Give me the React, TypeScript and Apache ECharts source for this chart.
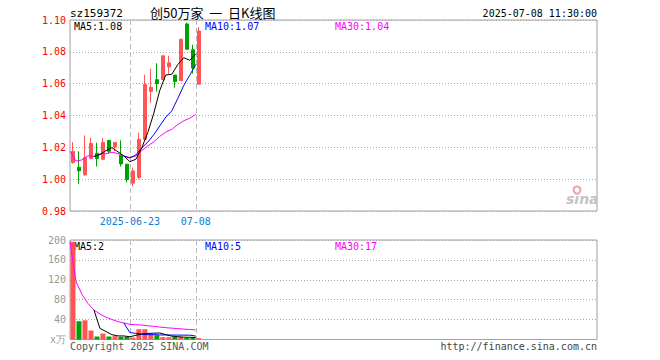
import { useEffect, useRef } from "react";
import * as echarts from "echarts";

// ---- data ----
const DATES = [
  "2025-06-09", "2025-06-10", "2025-06-11", "2025-06-12", "2025-06-13",
  "2025-06-16", "2025-06-17", "2025-06-18", "2025-06-19", "2025-06-20",
  "2025-06-23", "2025-06-24", "2025-06-25", "2025-06-26", "2025-06-27",
  "2025-06-30", "2025-07-01", "2025-07-02", "2025-07-03", "2025-07-04",
  "2025-07-07", "2025-07-08",
];
const OPEN = [1.0104, 1.0075, 1.0027, 1.0131, 1.0163, 1.0125, 1.0244, 1.0202, 1.015, 1.0094, 0.9975, 1.0011, 1.025, 1.0552, 1.0625, 1.0625, 1.0706, 1.0654, 1.0619, 1.0975, 1.0813, 1.0597];
const CLOSE = [1.0175, 1.0052, 1.0136, 1.0225, 1.0129, 1.0231, 1.0175, 1.0231, 1.0096, 0.9998, 1.0052, 1.025, 1.0594, 1.0577, 1.06, 1.0775, 1.0731, 1.0613, 1.0879, 1.0816, 1.0698, 1.0931];
const LOW = [1.0098, 0.9971, 1.0021, 1.0125, 1.0079, 1.0121, 1.016, 1.0177, 1.0079, 0.998, 0.9954, 1.0, 1.024, 1.0479, 1.055, 1.0625, 1.0663, 1.0575, 1.0619, 1.0816, 1.0663, 1.0597];
const HIGH = [1.0233, 1.0175, 1.0275, 1.026, 1.0229, 1.026, 1.0244, 1.0231, 1.0244, 1.0094, 1.0073, 1.0292, 1.0656, 1.0694, 1.0728, 1.0775, 1.0775, 1.0654, 1.088, 1.0984, 1.0844, 1.0956];

const PRICE_MA5_START = 4;
const PRICE_MA5 = [1.0143, 1.0155, 1.0179, 1.0198, 1.0172, 1.0146, 1.011, 1.0125, 1.0198, 1.0294, 1.0415, 1.0559, 1.0655, 1.0659, 1.072, 1.0763, 1.0747, 1.0787];
const PRICE_MA10_START = 9;
const PRICE_MA10 = [1.0145, 1.0133, 1.0152, 1.0198, 1.0233, 1.028, 1.0335, 1.039, 1.0429, 1.0507, 1.0589, 1.0653, 1.0721];
const PRICE_MA30_START = 0;
const PRICE_MA30 = [1.0175, 1.0114, 1.0121, 1.0147, 1.0143, 1.0158, 1.016, 1.0169, 1.0161, 1.0145, 1.0136, 1.0146, 1.018, 1.0209, 1.0235, 1.0269, 1.0296, 1.0313, 1.0343, 1.0367, 1.0383, 1.0407];

const VOLUME = [196.6, 36.7, 38.7, 18, 6, 12, 6, 6.7, 5.3, 5.3, 4, 20.7, 20.7, 10, 8.7, 4.7, 4.7, 5.3, 5.3, 3.3, 3.3, 2.7];
const VOL_MA5_START = 4;
const VOL_MA5 = [59.2, 22.3, 16.1, 9.7, 7.2, 7.1, 5.5, 8.4, 11.2, 12.1, 12.8, 13.0, 9.8, 6.7, 5.7, 4.7, 4.4, 4.0];
const VOL_MA10_START = 9;
const VOL_MA10 = [33.1, 13.9, 12.3, 10.5, 9.7, 9.9, 9.2, 9.1, 8.9, 8.9, 8.7, 8.7, 6.9];
const VOL_MA30_START = 0;
const VOL_MA30 = [196.6, 116.7, 90.7, 72.5, 59.2, 51.3, 44.9, 40.1, 36.2, 33.1, 30.5, 29.7, 29.0, 27.6, 26.4, 25.0, 23.8, 22.8, 21.9, 20.9, 20.1, 19.3];

const X_TICK_INDEX = [10, 21];
const X_TICK_LABELS = ["2025-06-23", "07-08"];

const PRICE_MIN = 0.98;
const PRICE_MAX = 1.1;
const PRICE_STEP = 0.02;
const VOL_MIN = 0;
const VOL_MAX = 200;
const VOL_STEP = 40;
const VOL_UNIT = "x万";

const TITLE_CODE = "sz159372";
const TITLE_NAME = "创50万家  一  日K线图";
const TITLE_TIME = "2025-07-08 11:30:00";
const PRICE_LEGEND = ["MA5:1.08", "MA10:1.07", "MA30:1.04"];
const VOL_LEGEND = ["MA5:2", "MA10:5", "MA30:17"];
const COPYRIGHT = "Copyright 2025 SINA.COM";
const SITE = "http://finance.sina.com.cn";

// ---- layout / style ----
const SLOT_COUNT = 88;
const MONO = '"DejaVu Sans Mono", "Liberation Mono", monospace';
const RED = "#ff5555";
const GREEN = "#00a000";
const BORDER = "#a0a0a0";

const slots: string[] = [];
for (let k = 0; k < SLOT_COUNT; k++) slots.push(k < DATES.length ? DATES[k] : "slot" + k);
const points: string[] = [];
for (let k = 0; k <= SLOT_COUNT; k++) points.push(k < DATES.length ? DATES[k] : "pt" + k);

function pad(values: number[], start: number): (number | null)[] {
  const out: (number | null)[] = [];
  for (let k = 0; k < start; k++) out.push(null);
  return out.concat(values);
}

const candleData = DATES.map((_, i) => [OPEN[i], CLOSE[i], LOW[i], HIGH[i]]);
const volData = VOLUME.map((v, i) => ({
  value: v,
  itemStyle: { color: CLOSE[i] >= OPEN[i] ? RED : GREEN },
}));

const isTick = (idx: number) => X_TICK_INDEX.indexOf(idx) >= 0;

function lineSeries(data: (number | null)[], color: string, xIdx: number, yIdx: number) {
  return {
    type: "line",
    data,
    xAxisIndex: xIdx,
    yAxisIndex: yIdx,
    symbol: "none",
    silent: true,
    lineStyle: { color, width: 1 },
    z: 5,
  };
}

function txt(text: string, x: number, y: number, fill: string, font: string, align = "left") {
  return {
    type: "text",
    x,
    y,
    silent: true,
    style: { text, fill, font, textAlign: align, textVerticalAlign: "middle" },
  };
}

export default function App() {
  const ref = useRef<HTMLDivElement>(null);
  useEffect(() => {
    if (!ref.current) return;
    const chart = echarts.init(ref.current, null, { renderer: "svg" });
    const splitX = {
      show: true,
      interval: (idx: number) => isTick(idx),
      lineStyle: { color: "#b8b8b8", type: [5, 3], width: 1 },
    };
    chart.setOption({
      animation: false,
      backgroundColor: "#ffffff",
      grid: [
        { left: 70, top: 20, width: 527, height: 191, show: true, borderColor: BORDER, borderWidth: 1 },
        { left: 70, top: 240, width: 527, height: 99.5, show: true, borderColor: BORDER, borderWidth: 1 },
      ],
      xAxis: [
        { type: "category", gridIndex: 0, position: "bottom", data: slots, boundaryGap: true, show: false },
        {
          type: "category",
          gridIndex: 0,
          position: "bottom",
          data: points,
          boundaryGap: false,
          axisLine: { show: false },
          axisTick: { show: false },
          axisLabel: {
            interval: (idx: number) => isTick(idx),
            formatter: (_v: string, idx: number) => {
              const k = X_TICK_INDEX.indexOf(idx);
              return k >= 0 ? X_TICK_LABELS[k] : "";
            },
            color: "#0a80d0",
            fontFamily: MONO,
            fontSize: 10,
            margin: 5,
          },
          splitLine: splitX,
        },
        { type: "category", gridIndex: 1, position: "bottom", data: slots, boundaryGap: true, show: false },
        {
          type: "category",
          gridIndex: 1,
          position: "bottom",
          data: points,
          boundaryGap: false,
          axisLine: { show: false },
          axisTick: { show: false },
          axisLabel: { show: false },
          splitLine: splitX,
        },
      ],
      yAxis: [
        {
          type: "value",
          gridIndex: 0,
          min: PRICE_MIN,
          max: PRICE_MAX,
          interval: PRICE_STEP,
          axisLine: { show: false },
          axisTick: { show: false },
          axisLabel: {
            formatter: (v: number) => v.toFixed(2),
            color: "#ff0000",
            fontFamily: MONO,
            fontSize: 10,
            margin: 4,
          },
          splitLine: { show: true, lineStyle: { color: "#a8a8a8", type: [1, 2], width: 1 } },
        },
        {
          type: "value",
          gridIndex: 1,
          min: VOL_MIN,
          max: VOL_MAX,
          interval: VOL_STEP,
          axisLine: { show: false },
          axisTick: { show: false },
          axisLabel: {
            formatter: (v: number) => (v === 0 ? VOL_UNIT : String(v)),
            color: "#999999",
            fontFamily: MONO,
            fontSize: 10,
            margin: 4,
          },
          splitLine: { show: true, lineStyle: { color: "#a8a8a8", type: [1, 2], width: 1 } },
        },
      ],
      series: [
        {
          type: "candlestick",
          xAxisIndex: 0,
          yAxisIndex: 0,
          data: candleData,
          barWidth: 4,
          silent: true,
          itemStyle: {
            color: RED,
            color0: GREEN,
            borderColor: RED,
            borderColor0: GREEN,
            borderWidth: 1,
          },
        },
        lineSeries(pad(PRICE_MA30, PRICE_MA30_START), "#ff00ff", 1, 0),
        lineSeries(pad(PRICE_MA10, PRICE_MA10_START), "#0000ff", 1, 0),
        lineSeries(pad(PRICE_MA5, PRICE_MA5_START), "#000000", 1, 0),
        {
          type: "bar",
          xAxisIndex: 2,
          yAxisIndex: 1,
          data: volData,
          barWidth: 5,
          silent: true,
        },
        lineSeries(pad(VOL_MA30, VOL_MA30_START), "#ff00ff", 3, 1),
        lineSeries(pad(VOL_MA10, VOL_MA10_START), "#0000ff", 3, 1),
        lineSeries(pad(VOL_MA5, VOL_MA5_START), "#000000", 3, 1),
      ],
      graphic: [
        txt(TITLE_CODE, 70, 13, "#000000", "11px " + MONO),
        txt(TITLE_NAME, 150, 12, "#000000", '13px "Noto Sans CJK SC"'),
        txt(TITLE_TIME, 597, 13, "#000000", "10px " + MONO, "right"),
        txt(PRICE_LEGEND[0], 74, 26, "#000000", "10px " + MONO),
        txt(PRICE_LEGEND[1], 205, 26, "#0000ff", "10px " + MONO),
        txt(PRICE_LEGEND[2], 335, 26, "#ff00ff", "10px " + MONO),
        txt(VOL_LEGEND[0], 74, 246, "#000000", "10px " + MONO),
        txt(VOL_LEGEND[1], 205, 246, "#0000ff", "10px " + MONO),
        txt(VOL_LEGEND[2], 335, 246, "#ff00ff", "10px " + MONO),
        txt(COPYRIGHT, 70, 346, "#555555", "10px " + MONO),
        txt(SITE, 597, 346, "#444444", "10px " + MONO, "right"),
        {
          type: "circle",
          silent: true,
          shape: { cx: 577, cy: 190, r: 3.5 },
          style: { fill: "none", stroke: "#f4a0a0", lineWidth: 2 },
        },
        txt("sina", 566, 199, "#c4c4c4", 'italic bold 14px "DejaVu Sans"'),
      ],
    });
    return () => chart.dispose();
  }, []);
  return (
    <div
      ref={ref}
      style={{ position: "absolute", left: 0, top: 0, width: 660, height: 360 }}
    />
  );
}
